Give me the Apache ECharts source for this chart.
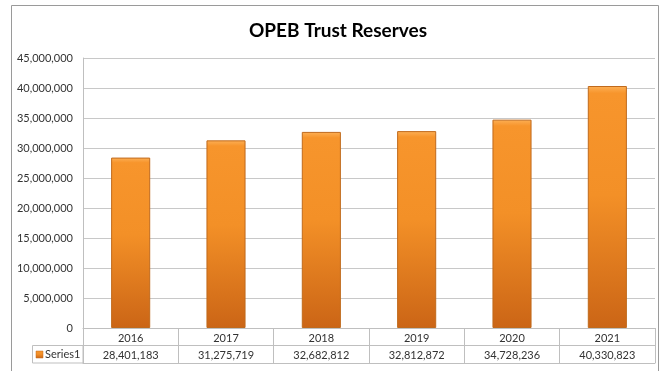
<!DOCTYPE html>
<html>
<head>
<meta charset="utf-8">
<script src="https://cdn.jsdelivr.net/npm/echarts@6/dist/echarts.min.js"></script>
<style>
  html, body { margin: 0; padding: 0; background: #fff; }
  #chart { width: 663px; height: 371px; }
</style>
</head>
<body>
<div id="chart"></div>
<script>
// OPEB trust reserves by year
const years = ['2016', '2017', '2018', '2019', '2020', '2021'];
const reserves = [28401183, 31275719, 32682812, 32812872, 34728236, 40330823];
const seriesName = 'Series1';

const FONT = 'Lato, "Open Sans", sans-serif';
const fmt = v => Number(v).toLocaleString('en-US');

const chart = echarts.init(document.getElementById('chart'), null, { renderer: 'canvas' });

const barGradient = new echarts.graphic.LinearGradient(0, 0, 0, 1, [
  { offset: 0, color: '#FDB056' },
  { offset: 0.03, color: '#F7952C' },
  { offset: 0.45, color: '#F39027' },
  { offset: 1, color: '#CB6516' }
]);

chart.setOption({
  animation: false,
  title: {
    text: 'OPEB Trust Reserves',
    left: 244,
    top: 16,
    textStyle: { fontFamily: FONT, fontSize: 19, fontWeight: 'bold', color: '#000' }
  },
  grid: { left: 83, right: 8, top: 58, bottom: 43, containLabel: false },
  xAxis: [
    {
      // year row with table column dividers
      type: 'category',
      data: years,
      position: 'bottom',
      boundaryGap: true,
      axisLine: { show: true, lineStyle: { color: '#bfbfbf', width: 1 } },
      axisTick: { show: true, length: 35, interval: 0, lineStyle: { color: '#bfbfbf' } },
      axisLabel: { margin: 5, fontFamily: FONT, fontSize: 11, color: '#333' }
    },
    {
      // value row
      type: 'category',
      data: reserves.map(fmt),
      position: 'bottom',
      offset: 17,
      boundaryGap: true,
      axisLine: { show: true, lineStyle: { color: '#bfbfbf', width: 1 } },
      axisTick: { show: false },
      axisLabel: { margin: 5, fontFamily: FONT, fontSize: 11, color: '#333' }
    },
    {
      // table bottom edge
      type: 'category',
      data: years,
      position: 'bottom',
      offset: 35,
      axisLine: { show: true, lineStyle: { color: '#bfbfbf', width: 1 } },
      axisTick: { show: false },
      axisLabel: { show: false }
    }
  ],
  yAxis: {
    type: 'value',
    min: 0,
    max: 45000000,
    interval: 5000000,
    axisLine: { show: true, lineStyle: { color: '#bfbfbf' } },
    axisTick: { show: false },
    splitLine: { show: true, lineStyle: { color: '#c8c8c8', width: 1 } },
    axisLabel: { margin: 10, fontFamily: FONT, fontSize: 11, color: '#333', formatter: fmt }
  },
  series: [{
    name: seriesName,
    type: 'bar',
    xAxisIndex: 0,
    data: reserves,
    barWidth: '41%',
    itemStyle: { color: barGradient, borderColor: '#C06A1C', borderWidth: 1 }
  }],
  graphic: [
    // chart frame
    { type: 'rect', shape: { x: 11.5, y: 5.5, width: 647, height: 380 }, style: { fill: null, stroke: '#9a9a9a', lineWidth: 1 }, silent: true, z: -1 },
    // series legend cell of the data table
    { type: 'rect', shape: { x: 32.5, y: 345.5, width: 50.5, height: 17.5 }, style: { fill: null, stroke: '#bfbfbf', lineWidth: 1 }, silent: true },
    { type: 'rect', shape: { x: 36, y: 351, width: 7, height: 7 }, style: { fill: barGradient, stroke: '#C06A1C', lineWidth: 0.5 }, silent: true },
    { type: 'text', style: { x: 45, y: 354.5, text: seriesName, fontFamily: FONT, fontSize: 11, fill: '#333', textVerticalAlign: 'middle', verticalAlign: 'middle' }, silent: true }
  ]
});
</script>
</body>
</html>
